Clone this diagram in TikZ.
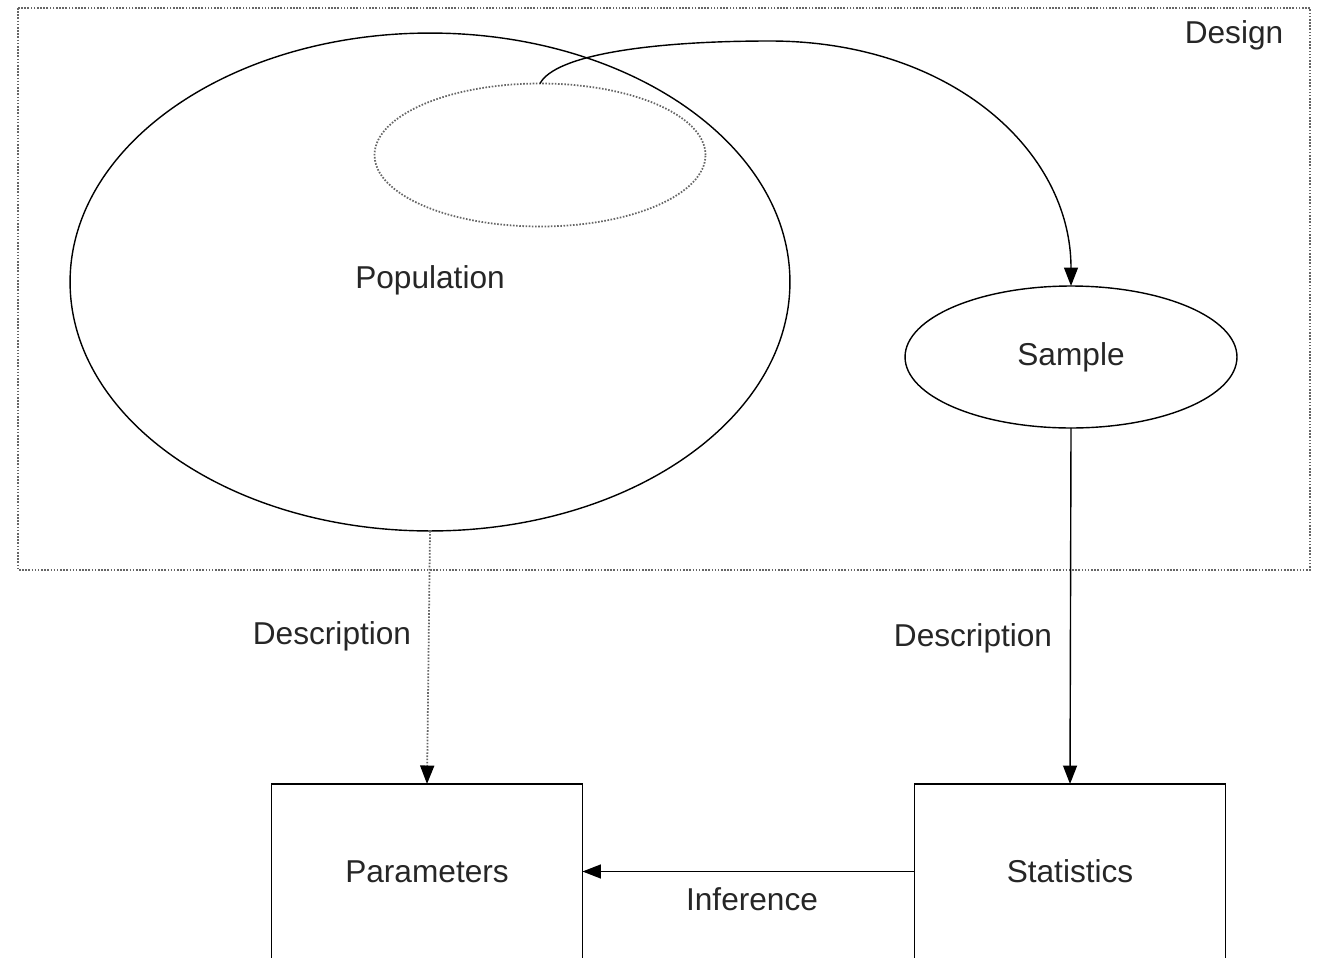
\documentclass[tikz,border=0pt]{standalone}
\usepackage{fontspec}
\setmainfont{Liberation Sans}
\usetikzlibrary{shapes.geometric,arrows.meta}

\begin{document}
\begin{tikzpicture}[x=0.02cm, y=-0.02cm, line width=0.8pt,
	every node/.style={font=\fontsize{18}{21}\selectfont, text=black!85, inner sep=0pt, outer sep=0pt},
	ovale/.style={ellipse, draw},
	scatola/.style={rectangle, draw, minimum width=6.22cm, minimum height=3.5cm},
	freccia/.style={-{Triangle[length=3.7mm, width=2.8mm, color=black]}},
	puntini/.style={line width=1pt, dash pattern=on 0.9pt off 0.9pt, draw=black!60}]
	\useasboundingbox (0,0) rectangle (1317,957);
	\clip (0,0) rectangle (1317,957);

	% Riquadro del disegno
	\draw[puntini] (18,8) rectangle (1310,570);
	\node (design) at (1234,35) {Design};

	% Nodi
	\node[ovale, minimum width=14.4cm, minimum height=9.96cm] (pop) at (430,282) {};
	\node (poplbl) at (430,280) {Population};
	\node[ovale, puntini, minimum width=6.62cm, minimum height=2.86cm] (sub) at (540,155) {};
	\node[ovale, minimum width=6.64cm, minimum height=2.84cm] (sample) at (1071,357) {Sample};
	\node[scatola, anchor=north] (param) at (427,784) {Parameters};
	\node[scatola, anchor=north] (stats) at (1070,784) {Statistics};

	% Archi
	\draw[freccia] (sub.north) .. controls (555,55) and (650,41) .. (770,41)
		.. controls (950,41) and (1071,150) .. (sample.north);
	\draw[freccia, puntini] (pop.south) -- (param.north);
	\draw[freccia] (sample.south) -- (stats.north);
	\draw[freccia] (stats.west) -- (param.east);

	% Etichette
	\node (desc1) at (332,636) {Description};
	\node (desc2) at (973,638) {Description};
	\node (infer) at (752,899) {Inference};
\end{tikzpicture}
\end{document}
